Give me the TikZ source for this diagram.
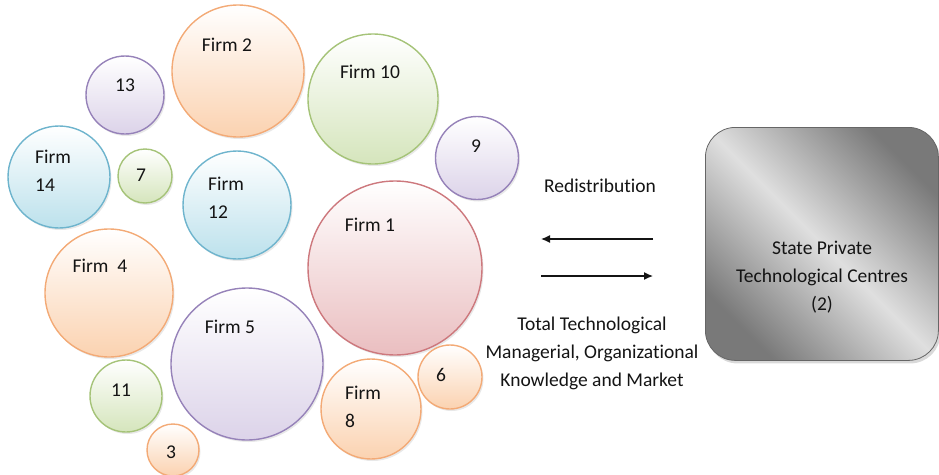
\documentclass[tikz,border=0pt]{standalone}
\usepackage{fontspec}
\setmainfont{Carlito}[Ligatures={NoCommon}]
\usetikzlibrary{arrows.meta,shadows}
\newcommand\myti{t\kern0pt i}
\definecolor{orB}{RGB}{243,170,118}
\definecolor{orF}{RGB}{251,210,176}
\definecolor{puB}{RGB}{150,130,185}
\definecolor{puF}{RGB}{220,211,233}
\definecolor{blB}{RGB}{110,180,205}
\definecolor{blF}{RGB}{188,225,236}
\definecolor{grB}{RGB}{165,195,120}
\definecolor{grF}{RGB}{213,229,188}
\definecolor{reB}{RGB}{205,120,125}
\definecolor{reF}{RGB}{234,190,192}
\definecolor{txt}{RGB}{20,20,20}
\tikzset{
  bub/.style={circle, inner sep=0pt, line width=1.4pt, top color=white,
    drop shadow={opacity=0.18, shadow xshift=1.5pt, shadow yshift=-2pt}},
  orb/.style={bub, draw=orB, bottom color=orF},
  pub/.style={bub, draw=puB, bottom color=puF},
  blb/.style={bub, draw=blB, bottom color=blF},
  grb/.style={bub, draw=grB, bottom color=grF},
  reb/.style={bub, draw=reB, bottom color=reF},
  lbl/.style={inner sep=0pt, text=txt, font=\fontsize{19.5}{28}\selectfont},
  lbll/.style={lbl, align=left, anchor=west},
  flow/.style={line width=1.3pt, -{Latex[length=9pt,width=8pt]}, draw=txt},
}
\begin{document}
\begin{tikzpicture}[x=1pt,y=-1pt]
\useasboundingbox (0,0) rectangle (939,474);
% bubbles
\node[orb, minimum size=132pt] (c2) at (238,71) {};
\node[pub, minimum size=78pt] (c13) at (125,95) {};
\node[blb, minimum size=102pt] (c14) at (59,177) {};
\node[grb, minimum size=54pt] (c7) at (145,176) {};
\node[blb, minimum size=108pt] (c12) at (237,205) {};
\node[grb, minimum size=130pt] (c10) at (373,99) {};
\node[pub, minimum size=83pt] (c9) at (477,158) {};
\node[reb, minimum size=174pt] (c1) at (395,268) {};
\node[orb, minimum size=64pt] (c6) at (450,377) {};
\node[orb, minimum size=100pt] (c8) at (371,409) {};
\node[pub, minimum size=152pt] (c5) at (247,364) {};
\node[orb, minimum size=128pt] (c4) at (109,293) {};
\node[grb, minimum size=72pt] (c11) at (126,396) {};
\node[orb, minimum size=52pt] (c3) at (173,450) {};
% labels
\node[lbl] (t2) at (227,45) {Firm 2};
\node[lbl] (t13) at (125,85) {13};
\node[lbll] (t14) at (35,171) {Firm\\14};
\node[lbl] (t7) at (141,175) {7};
\node[lbll] (t12) at (208,198) {Firm\\12};
\node[lbl] (t10) at (370,72) {Firm 10};
\node[lbl] (t9) at (476,146) {9};
\node[lbl] (t1) at (370,225) {Firm 1};
\node[lbl] (t6) at (441,375) {6};
\node[lbll] (t8) at (345,407) {Firm\\8};
\node[lbl] (t4) at (100,266) {Firm\ \ 4};
\node[lbl] (t5) at (230,327) {Firm 5};
\node[lbl] (t11) at (121,390) {11};
\node[lbl] (t3) at (171,452) {3};
% centre box
\node[draw=gray!80!black, line width=0.8pt, rounded corners=30pt,
  minimum width=233pt, minimum height=233pt, anchor=north west,
  top color=gray!95!black, bottom color=gray!95!black, middle color=gray!25,
  shading angle=-45,
  drop shadow={opacity=0.3, shadow xshift=2pt, shadow yshift=-3pt}] (box) at (705,127) {};
\node[lbl, align=center] (boxt) at (822,277) {State Private\\Technological Centres\\(2)};
% arrows
\coordinate (a1s) at (653,239);
\coordinate (a1e) at (541,239);
\coordinate (a2s) at (541,276);
\coordinate (a2e) at (653,276);
\draw[flow] (a1s) -- (a1e);
\draw[flow] (a2s) -- (a2e);
\node[lbl] (redis) at (600,186) {Redistribu\myti on};
\node[lbl, align=center] (total) at (592,353) {Total Technological\\Managerial, Organiza\myti onal\\Knowledge and Market};
\end{tikzpicture}
\end{document}
